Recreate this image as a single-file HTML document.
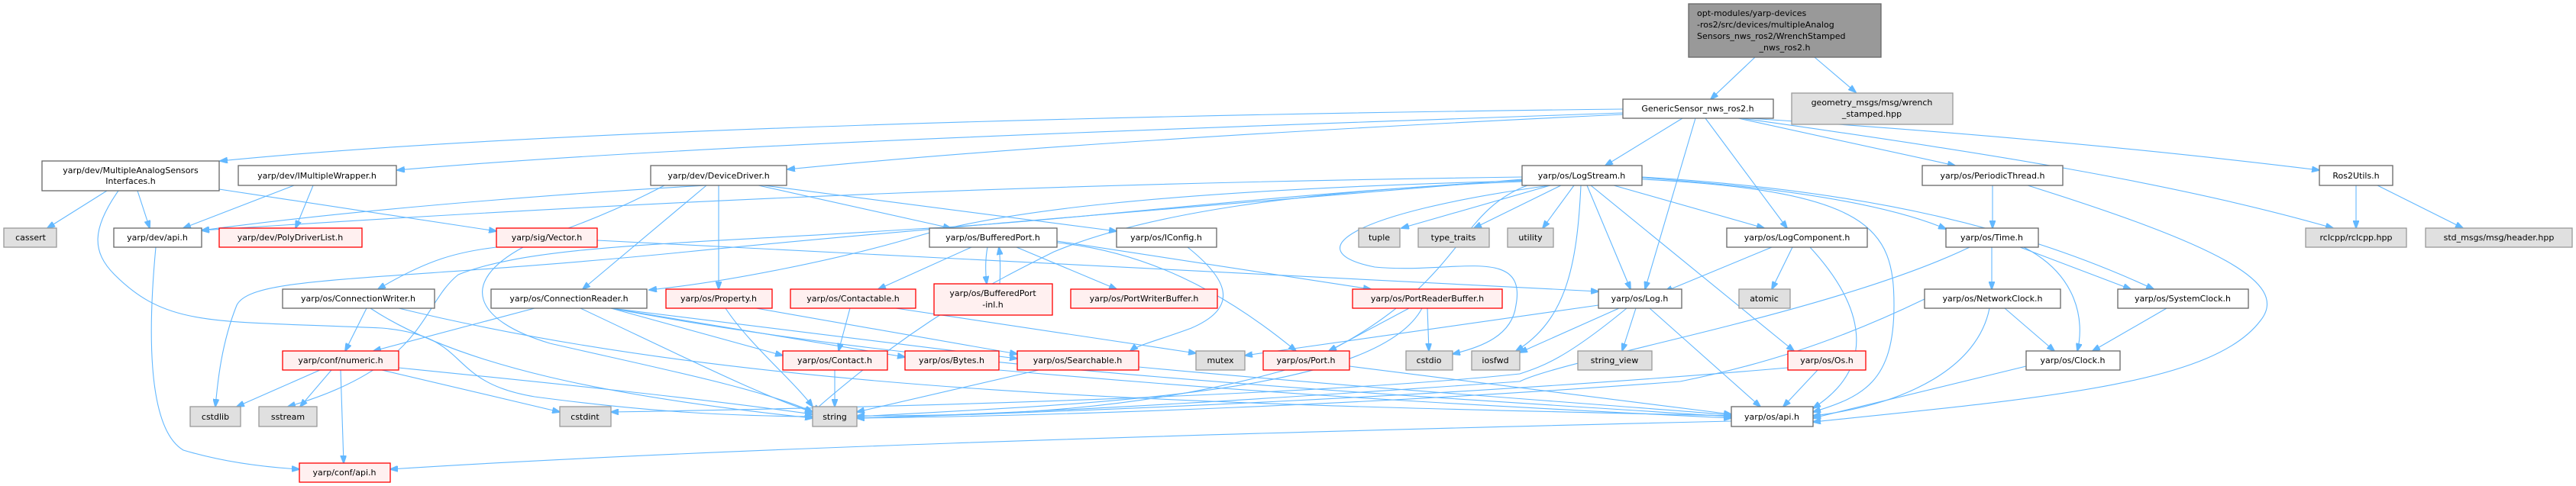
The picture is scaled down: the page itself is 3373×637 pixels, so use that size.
<!DOCTYPE html>
<html><head><meta charset="utf-8"><style>
html,body{margin:0;padding:0;background:#fff;}
svg{display:block;}
text{font-family:"DejaVu Sans","Liberation Sans",sans-serif;font-size:11px;fill:#000;}
.w{fill:#fff;stroke:#666;stroke-width:1.3}
.r{fill:#fff0f0;stroke:#f00;stroke-width:1.3}
.g{fill:#e0e0e0;stroke:#999;stroke-width:1.3}
.d{fill:#999;stroke:#666;stroke-width:1.3}
path.e{fill:none;stroke:#63b8ff;stroke-width:1.1;marker-end:url(#a)}
</style></head><body>
<svg width="3373" height="637" viewBox="0 0 3373 637" xmlns="http://www.w3.org/2000/svg">
<defs><marker id="a" markerWidth="11" markerHeight="8" refX="10" refY="4" orient="auto" markerUnits="userSpaceOnUse"><path d="M0,0 L11,4 L0,8 z" fill="#63b8ff" stroke="#63b8ff"/></marker></defs>
<g>
<path class="e" d="M2298,75 L2240,130"/>
<path class="e" d="M2376,75 L2430,121"/>
<path class="e" d="M2125,143 C1500,150 700,170 288,211"/>
<path class="e" d="M2125,148 C1500,170 900,190 520,223"/>
<path class="e" d="M2125,150 C1700,170 1300,195 1031,222"/>
<path class="e" d="M2203,155 L2102,217"/>
<path class="e" d="M2220,155 L2154,379"/>
<path class="e" d="M2233,155 L2340,299"/>
<path class="e" d="M2276,155 L2560,217"/>
<path class="e" d="M2280,155 C2600,200 2850,240 3055,299"/>
<path class="e" d="M2290,155 C2600,175 2850,200 3037,223"/>
<path class="e" d="M140,250 L62,299"/>
<path class="e" d="M180,250 L196,299"/>
<path class="e" d="M287,248 L650,303"/>
<path class="e" d="M155,250 C120,300 120,330 150,360 C220,430 280,420 500,430 C620,440 580,500 700,520 C850,540 950,545 1064,546"/>
<path class="e" d="M385,243 L240,299"/>
<path class="e" d="M410,243 L387,299"/>
<path class="e" d="M925,243 C800,250 500,270 264,302"/>
<path class="e" d="M1993,232 C1400,240 900,260 264,302"/>
<path class="e" d="M870,243 C800,280 700,320 650,324 C600,330 560,340 495,379"/>
<path class="e" d="M925,243 L763,379"/>
<path class="e" d="M941,243 L941,379"/>
<path class="e" d="M993,243 L1245,299"/>
<path class="e" d="M1000,243 L1462,303"/>
<path class="e" d="M782,315 L2093,382"/>
<path class="e" d="M685,324 C600,370 620,420 720,450 C850,480 1000,510 1064,540"/>
<path class="e" d="M1272,324 L1150,379"/>
<path class="e" d="M1293,324 C1290,340 1290,355 1292,372"/>
<path class="e" d="M1309,372 C1310,355 1310,340 1308,324"/>
<path class="e" d="M1331,324 L1462,379"/>
<path class="e" d="M1384,316 L1795,379"/>
<path class="e" d="M1384,318 C1500,330 1600,380 1697,460"/>
<path class="e" d="M1555,324 C1600,360 1630,400 1560,430 C1520,445 1490,452 1480,460"/>
<path class="e" d="M1993,237 C1500,250 1300,280 1200,310 C1100,340 950,370 850,380"/>
<path class="e" d="M1993,238 C1700,250 1500,280 1380,330 C1300,370 1200,420 1064,540"/>
<path class="e" d="M1993,236 C1600,260 1400,290 1200,300 C900,320 700,320 600,360 C550,400 560,480 377,533"/>
<path class="e" d="M1993,235 C1700,260 1200,300 900,330 C500,370 330,360 310,400 C290,450 285,500 282,533"/>
<path class="e" d="M2030,243 L1835,299"/>
<path class="e" d="M2044,243 L1930,299"/>
<path class="e" d="M2061,243 L2020,299"/>
<path class="e" d="M2113,243 L2310,299"/>
<path class="e" d="M2078,243 L2135,379"/>
<path class="e" d="M2083,243 L2349,460"/>
<path class="e" d="M2070,243 C2065,350 2050,420 1985,460"/>
<path class="e" d="M2030,243 C1760,280 1700,330 1800,350 C1900,360 2000,320 1985,400 C1980,440 1940,455 1902,464"/>
<path class="e" d="M2150,235 C2450,250 2480,300 2480,400 C2480,500 2440,520 2374,540"/>
<path class="e" d="M2150,233 C2400,250 2500,280 2548,300"/>
<path class="e" d="M2150,232 C2450,250 2650,300 2820,379"/>
<path class="e" d="M2000,243 C1900,280 1920,380 1700,480 C1500,540 1300,545 1122,545"/>
<path class="e" d="M480,404 L452,460"/>
<path class="e" d="M485,404 C600,480 800,520 1064,548"/>
<path class="e" d="M522,404 C1000,520 1600,530 2267,545"/>
<path class="e" d="M700,404 L489,460"/>
<path class="e" d="M760,404 C900,470 1000,520 1064,540"/>
<path class="e" d="M800,404 L1025,466"/>
<path class="e" d="M800,404 L1185,468"/>
<path class="e" d="M800,404 L1332,470"/>
<path class="e" d="M800,404 C1200,480 1700,510 2267,546"/>
<path class="e" d="M419,485 L310,533"/>
<path class="e" d="M434,485 L393,533"/>
<path class="e" d="M446,485 L450,607"/>
<path class="e" d="M500,485 L733,540"/>
<path class="e" d="M522,482 C700,500 900,520 1064,543"/>
<path class="e" d="M204,324 C195,420 190,560 240,590 C290,605 340,612 392,615"/>
<path class="e" d="M2267,552 C1500,570 900,590 511,615"/>
<path class="e" d="M950,404 C980,450 1040,500 1064,533"/>
<path class="e" d="M990,404 L1332,464"/>
<path class="e" d="M1113,404 L1098,460"/>
<path class="e" d="M1173,404 L1566,463"/>
<path class="e" d="M1093,485 L1093,533"/>
<path class="e" d="M1308,485 C1700,520 2000,535 2267,548"/>
<path class="e" d="M1360,485 L1122,540"/>
<path class="e" d="M1491,481 C1800,510 2100,530 2267,544"/>
<path class="e" d="M1845,404 L1740,460"/>
<path class="e" d="M1869,404 L1871,460"/>
<path class="e" d="M1862,404 C1800,520 1400,530 1122,546"/>
<path class="e" d="M1767,480 L2267,543"/>
<path class="e" d="M2093,400 L1630,466"/>
<path class="e" d="M2120,404 L1990,462"/>
<path class="e" d="M2142,404 L2124,460"/>
<path class="e" d="M2160,404 L2305,533"/>
<path class="e" d="M2130,404 C2050,470 2020,480 1990,490 C1800,510 1400,530 800,540"/>
<path class="e" d="M2320,324 L2180,382"/>
<path class="e" d="M2347,324 L2320,379"/>
<path class="e" d="M2370,324 C2440,400 2460,480 2374,535"/>
<path class="e" d="M2380,485 L2335,533"/>
<path class="e" d="M2341,482 C1900,520 1400,540 1122,548"/>
<path class="e" d="M2608,324 L2608,379"/>
<path class="e" d="M2645,324 L2790,379"/>
<path class="e" d="M2650,324 C2720,360 2730,420 2720,460"/>
<path class="e" d="M2579,324 C2400,410 2050,470 1990,500 C1700,520 1400,540 1122,548"/>
<path class="e" d="M2625,404 L2690,460"/>
<path class="e" d="M2605,404 C2590,480 2500,530 2374,545"/>
<path class="e" d="M2520,392 C2400,450 2300,480 2200,500 C1800,530 1400,545 1122,548"/>
<path class="e" d="M2837,404 L2740,460"/>
<path class="e" d="M2653,480 L2374,548"/>
<path class="e" d="M2609,243 L2609,299"/>
<path class="e" d="M2655,243 C2900,320 3000,370 2960,420 C2900,500 2700,520 2374,553"/>
<path class="e" d="M3085,243 L3085,299"/>
<path class="e" d="M3113,243 L3225,299"/>
</g>
<rect class="d" x="2211" y="5" width="252" height="70"/>
<text x="2222" y="21">opt-modules/yarp-devices</text>
<text x="2222" y="36">-ros2/src/devices/multipleAnalog</text>
<text x="2222" y="51">Sensors_nws_ros2/WrenchStamped</text>
<text x="2337" y="66" text-anchor="middle">_nws_ros2.h</text>
<g text-anchor="middle">
<rect class="w" x="2125" y="130" width="197" height="25"/><text x="2223" y="146">GenericSensor_nws_ros2.h</text>
<rect class="g" x="2346" y="122" width="211" height="41"/><text x="2451" y="138">geometry_msgs/msg/wrench</text><text x="2451" y="153">_stamped.hpp</text>
<rect class="w" x="55" y="211" width="232" height="39"/><text x="171" y="227">yarp/dev/MultipleAnalogSensors</text><text x="171" y="241">Interfaces.h</text>
<rect class="w" x="312" y="217" width="207" height="26"/><text x="415" y="234">yarp/dev/IMultipleWrapper.h</text>
<rect class="w" x="852" y="217" width="178" height="26"/><text x="941" y="234">yarp/dev/DeviceDriver.h</text>
<rect class="w" x="1993" y="217" width="157" height="26"/><text x="2071" y="234">yarp/os/LogStream.h</text>
<rect class="w" x="2517" y="217" width="184" height="26"/><text x="2609" y="234">yarp/os/PeriodicThread.h</text>
<rect class="w" x="3037" y="217" width="96" height="26"/><text x="3085" y="234">Ros2Utils.h</text>
<rect class="g" x="5" y="299" width="69" height="25"/><text x="40" y="315">cassert</text>
<rect class="w" x="149" y="299" width="115" height="25"/><text x="206" y="315">yarp/dev/api.h</text>
<rect class="r" x="287" y="299" width="187" height="25"/><text x="380" y="315">yarp/dev/PolyDriverList.h</text>
<rect class="r" x="650" y="299" width="132" height="25"/><text x="716" y="315">yarp/sig/Vector.h</text>
<rect class="w" x="1217" y="299" width="167" height="25"/><text x="1300" y="315">yarp/os/BufferedPort.h</text>
<rect class="w" x="1462" y="299" width="131" height="25"/><text x="1527" y="315">yarp/os/IConfig.h</text>
<rect class="g" x="1779" y="299" width="54" height="25"/><text x="1806" y="315">tuple</text>
<rect class="g" x="1857" y="299" width="93" height="25"/><text x="1903" y="315">type_traits</text>
<rect class="g" x="1974" y="299" width="60" height="25"/><text x="2004" y="315">utility</text>
<rect class="w" x="2261" y="299" width="184" height="25"/><text x="2353" y="315">yarp/os/LogComponent.h</text>
<rect class="w" x="2548" y="299" width="121" height="25"/><text x="2608" y="315">yarp/os/Time.h</text>
<rect class="g" x="3019" y="299" width="132" height="25"/><text x="3085" y="315">rclcpp/rclcpp.hpp</text>
<rect class="g" x="3176" y="299" width="192" height="25"/><text x="3272" y="315">std_msgs/msg/header.hpp</text>
<rect class="w" x="370" y="379" width="199" height="25"/><text x="469" y="395">yarp/os/ConnectionWriter.h</text>
<rect class="w" x="643" y="379" width="204" height="25"/><text x="745" y="395">yarp/os/ConnectionReader.h</text>
<rect class="r" x="872" y="379" width="139" height="25"/><text x="941" y="395">yarp/os/Property.h</text>
<rect class="r" x="1035" y="379" width="164" height="25"/><text x="1117" y="395">yarp/os/Contactable.h</text>
<rect class="r" x="1223" y="372" width="155" height="41"/><text x="1300" y="388">yarp/os/BufferedPort</text><text x="1300" y="403">-inl.h</text>
<rect class="r" x="1402" y="379" width="192" height="25"/><text x="1498" y="395">yarp/os/PortWriterBuffer.h</text>
<rect class="r" x="1771" y="379" width="196" height="25"/><text x="1869" y="395">yarp/os/PortReaderBuffer.h</text>
<rect class="w" x="2093" y="379" width="109" height="25"/><text x="2147" y="395">yarp/os/Log.h</text>
<rect class="g" x="2277" y="379" width="67" height="25"/><text x="2310" y="395">atomic</text>
<rect class="w" x="2520" y="379" width="178" height="25"/><text x="2609" y="395">yarp/os/NetworkClock.h</text>
<rect class="w" x="2773" y="379" width="171" height="25"/><text x="2858" y="395">yarp/os/SystemClock.h</text>
<rect class="r" x="370" y="460" width="152" height="25"/><text x="446" y="476">yarp/conf/numeric.h</text>
<rect class="r" x="1025" y="460" width="137" height="25"/><text x="1093" y="476">yarp/os/Contact.h</text>
<rect class="r" x="1185" y="460" width="123" height="25"/><text x="1246" y="476">yarp/os/Bytes.h</text>
<rect class="r" x="1332" y="460" width="159" height="25"/><text x="1411" y="476">yarp/os/Searchable.h</text>
<rect class="g" x="1566" y="460" width="64" height="25"/><text x="1598" y="476">mutex</text>
<rect class="r" x="1654" y="460" width="113" height="25"/><text x="1710" y="476">yarp/os/Port.h</text>
<rect class="g" x="1841" y="460" width="61" height="25"/><text x="1871" y="476">cstdio</text>
<rect class="g" x="1927" y="460" width="63" height="25"/><text x="1958" y="476">iosfwd</text>
<rect class="g" x="2066" y="460" width="97" height="25"/><text x="2114" y="476">string_view</text>
<rect class="r" x="2341" y="460" width="102" height="25"/><text x="2392" y="476">yarp/os/Os.h</text>
<rect class="w" x="2653" y="460" width="123" height="25"/><text x="2714" y="476">yarp/os/Clock.h</text>
<rect class="g" x="249" y="533" width="66" height="26"/><text x="282" y="550">cstdlib</text>
<rect class="g" x="339" y="533" width="76" height="26"/><text x="377" y="550">sstream</text>
<rect class="g" x="733" y="533" width="67" height="26"/><text x="766" y="550">cstdint</text>
<rect class="g" x="1064" y="533" width="58" height="26"/><text x="1093" y="550">string</text>
<rect class="w" x="2267" y="533" width="107" height="26"/><text x="2320" y="550">yarp/os/api.h</text>
<rect class="r" x="392" y="607" width="119" height="25"/><text x="451" y="623">yarp/conf/api.h</text>
</g>
</svg>
</body></html>
